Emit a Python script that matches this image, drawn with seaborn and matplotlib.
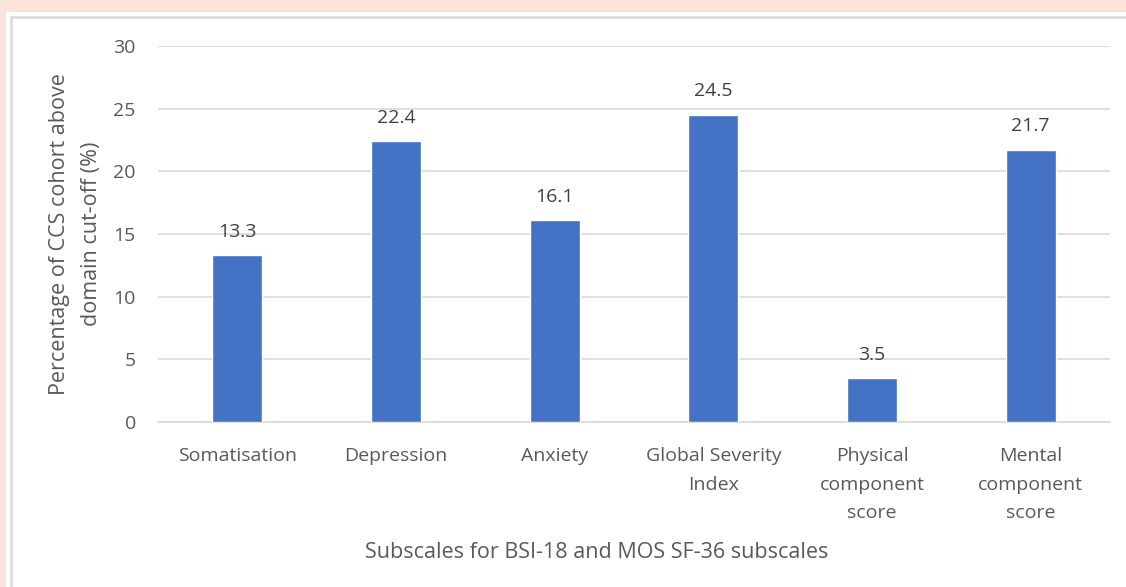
import matplotlib
matplotlib.use("Agg")
import matplotlib.pyplot as plt
import seaborn as sns
import pandas as pd
from matplotlib.patches import Rectangle

categories = ["Somatisation", "Depression", "Anxiety", "Global Severity\nIndex",
              "Physical\ncomponent\nscore", "Mental\ncomponent\nscore"]
values = [13.3, 22.4, 16.1, 24.5, 3.5, 21.7]
yticks = [0, 5, 10, 15, 20, 25, 30]

df = pd.DataFrame({"subscale": categories, "pct": values})

sns.set_theme(style="white")
plt.rcParams["font.family"] = ["Open Sans", "DejaVu Sans"]

W, H = 1126, 587
fig = plt.figure(figsize=(W / 100, H / 100), dpi=100)
fig.patch.set_facecolor("#FAE3D9")

# white chart area with a light grey frame, kept behind the axes
fig.patches.append(Rectangle((6 / W, 0), 1 - 6 / W, 1 - 12 / H, transform=fig.transFigure,
                             facecolor="white", edgecolor="none", zorder=-2))
fig.patches.append(Rectangle((11 / W, -0.01), 1.0, 1 - 17 / H + 0.01, transform=fig.transFigure,
                             facecolor="none", edgecolor="#D9D9D9", linewidth=1.8, zorder=-1))

ax = fig.add_axes([158 / W, 1 - 422 / H, (1110 - 158) / W, (422 - 46) / H])
ax.set_facecolor("none")
ax.set_zorder(1)

sns.barplot(data=df, x="subscale", y="pct", color="#4472C4", width=0.315,
            saturation=1, ax=ax, zorder=3)

ax.set_ylim(0, 30)
ax.set_yticks(yticks)
ax.set_xlim(-0.5, len(categories) - 0.5)
ax.yaxis.grid(True, color="#D9D9D9", linewidth=1.2, zorder=0)
ax.set_axisbelow(True)
for s in ax.spines.values():
    s.set_visible(False)
ax.spines["bottom"].set_visible(True)
ax.spines["bottom"].set_color("#D9D9D9")
ax.spines["bottom"].set_linewidth(1.2)

ax.tick_params(axis="both", length=0, labelsize=14, labelcolor="#595959")
ax.tick_params(axis="y", pad=16)
ax.tick_params(axis="x", pad=18)
for lbl in ax.get_xticklabels():
    lbl.set_linespacing(1.75)

for i, v in enumerate(values):
    ax.annotate(f"{v}", (i, v), xytext=(0, 10.5), textcoords="offset points",
                ha="center", va="bottom", fontsize=14, color="#404040")

ax.set_xlabel("")
ax.set_ylabel("Percentage of CCS cohort above\ndomain cut-off (%)", fontsize=15.5,
              color="#595959", labelpad=8, linespacing=1.7)
fig.text(597 / W, 1 - 553 / H, "Subscales for BSI-18 and MOS SF-36 subscales",
         ha="center", va="center", fontsize=15.5, color="#595959")

fig.savefig("out.png", dpi=100, facecolor=fig.get_facecolor())
